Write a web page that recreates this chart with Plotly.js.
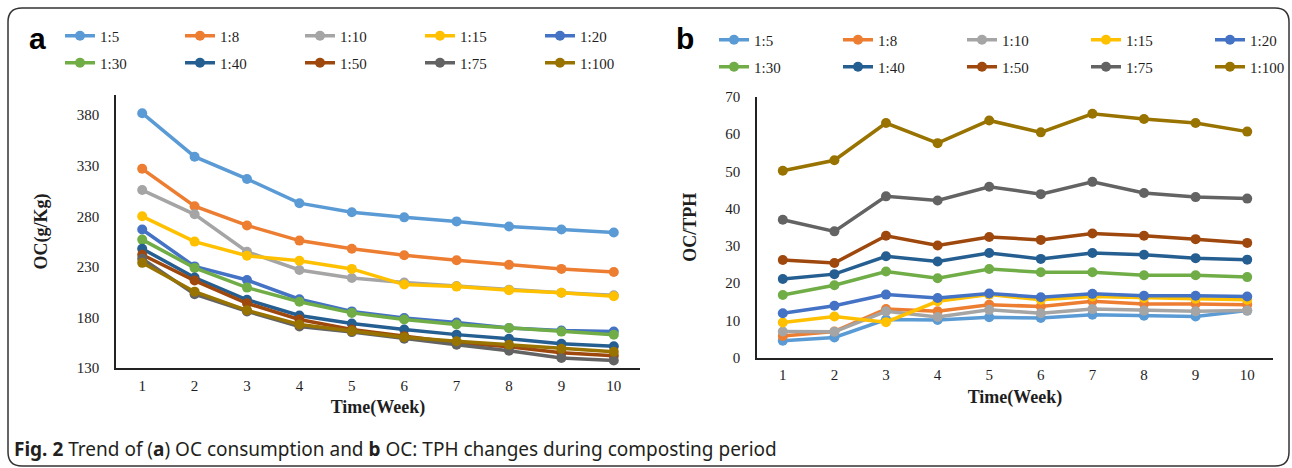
<!DOCTYPE html>
<html><head><meta charset="utf-8">
<script src="https://cdn.plot.ly/plotly-3.0.1.min.js"></script>
<style>html,body{margin:0;padding:0;background:#fff}#chart{width:1292px;height:468px}</style>
</head><body><div id="chart"></div>
<script>
// ---- data ----
const weeks = [1, 2, 3, 4, 5, 6, 7, 8, 9, 10];
const weekLabels = ['1', '2', '3', '4', '5', '6', '7', '8', '9', '10'];
const ratioNames = ['1:5', '1:8', '1:10', '1:15', '1:20', '1:30', '1:40', '1:50', '1:75', '1:100'];
const ratioColors = ['#5B9BD5', '#ED7D31', '#A5A5A5', '#FFC000', '#4472C4', '#70AD47', '#255E91', '#9E480E', '#636363', '#997300'];

// panel a: OC (g/Kg)
const oc_1_5   = [382, 339, 317, 293, 284, 279, 275, 270, 267, 264];
const oc_1_8   = [327, 290, 271, 256, 248, 241.5, 236.5, 232, 228, 225];
const oc_1_10  = [306, 282, 245, 227, 219, 214.5, 211, 207.5, 204.5, 202];
const oc_1_15  = [280, 255, 241, 236, 228, 212.5, 210.5, 207, 204.5, 201];
const oc_1_20  = [267, 230.5, 217, 198, 186, 179.5, 175, 169.5, 167, 166];
const oc_1_30  = [257, 229, 209.5, 195.5, 184.5, 178, 173, 169.5, 166, 163];
const oc_1_40  = [248, 219.5, 197.5, 182, 174, 168, 163, 159, 154, 151.5];
const oc_1_50  = [242, 216.5, 194, 178, 168, 161.5, 155, 151, 145, 142];
const oc_1_75  = [238, 203, 186, 171, 165.5, 159, 153, 147, 140, 137.5];
const oc_1_100 = [234, 205.5, 187, 173, 166.5, 160.5, 156.5, 153, 149, 146];

// panel b: OC/TPH
const tph_1_5   = [4.5, 5.4, 10.2, 10.1, 10.8, 10.6, 11.5, 11.2, 11.0, 12.6];
const tph_1_8   = [5.8, 7.0, 13.0, 12.4, 14.2, 13.7, 15.1, 14.4, 14.4, 14.2];
const tph_1_10  = [7.0, 6.9, 12.4, 10.9, 12.8, 11.9, 13.0, 12.6, 12.4, 12.6];
const tph_1_15  = [9.4, 11.0, 9.5, 15.1, 16.9, 15.5, 16.4, 16.0, 15.8, 15.5];
const tph_1_20  = [11.9, 13.9, 16.9, 16.0, 17.2, 16.2, 17.1, 16.6, 16.6, 16.4];
const tph_1_30  = [16.8, 19.4, 23.1, 21.3, 23.8, 22.9, 22.9, 22.1, 22.1, 21.6];
const tph_1_40  = [21.1, 22.4, 27.2, 25.8, 28.1, 26.5, 28.1, 27.6, 26.7, 26.3];
const tph_1_50  = [26.2, 25.4, 32.7, 30.1, 32.4, 31.6, 33.3, 32.7, 31.8, 30.8];
const tph_1_75  = [37.0, 33.9, 43.3, 42.2, 45.9, 43.9, 47.2, 44.2, 43.1, 42.7];
const tph_1_100 = [50.2, 53.0, 63.0, 57.6, 63.7, 60.5, 65.5, 64.1, 63.0, 60.7];

const ocTickVals = [130, 180, 230, 280, 330, 380];
const tphTickVals = [0, 10, 20, 30, 40, 50, 60, 70];

const ocSeries = [oc_1_5, oc_1_8, oc_1_10, oc_1_15, oc_1_20, oc_1_30, oc_1_40, oc_1_50, oc_1_75, oc_1_100];
const tphSeries = [tph_1_5, tph_1_8, tph_1_10, tph_1_15, tph_1_20, tph_1_30, tph_1_40, tph_1_50, tph_1_75, tph_1_100];

// ---- layout helpers (pixel -> paper, margins are 0) ----
const W = 1292, H = 468;
const PX = p => p / W;
const PY = p => 1 - p / H;
const SERIF = 'Liberation Serif, Times New Roman, serif';
const TXT = '#1e1e1e';

// legend ids: panel a rows -> legend / legend2 ; panel b rows -> legend3..legend6
function legendA(i) { return i < 5 ? 'legend' : 'legend2'; }
function legendB(i) {
  if (i < 4) return 'legend3';
  if (i === 4) return 'legend5';
  if (i < 9) return 'legend4';
  return 'legend6';
}

const traces = [];
ratioNames.forEach((name, i) => {
  traces.push({
    x: weeks, y: ocSeries[i], name: name, type: 'scatter', mode: 'lines+markers',
    xaxis: 'x', yaxis: 'y', legend: legendA(i),
    line: {color: ratioColors[i], width: 3.5}, marker: {color: ratioColors[i], size: 10},
    hoverinfo: 'x+y+name'
  });
});
ratioNames.forEach((name, i) => {
  traces.push({
    x: weeks, y: tphSeries[i], name: name, type: 'scatter', mode: 'lines+markers',
    xaxis: 'x2', yaxis: 'y2', legend: legendB(i),
    line: {color: ratioColors[i], width: 3.5}, marker: {color: ratioColors[i], size: 10},
    hoverinfo: 'x+y+name'
  });
});

function leg(xpx, ypx, ew) {
  const o = {
    orientation: 'h', x: PX(xpx), y: PY(ypx), xanchor: 'left', yanchor: 'middle',
    itemwidth: 30,
    font: {family: SERIF, size: 15, color: TXT}, bgcolor: 'rgba(0,0,0,0)',
    borderwidth: 0, itemclick: false, itemdoubleclick: false, tracegroupgap: 0
  };
  if (ew) { o.entrywidth = ew; o.entrywidthmode = 'pixels'; }
  return o;
}

function xAx(l, r, anchor) {
  return {
    domain: [PX(l), PX(r)], anchor: anchor, range: [0.5, 10.5],
    tickvals: weeks, ticktext: weekLabels, ticks: '', showgrid: false, zeroline: false,
    showline: true, linecolor: '#222', linewidth: 1.5, ticklabelstandoff: 3,
    tickfont: {family: SERIF, size: 15, color: TXT},
    title: {text: 'Time(Week)', standoff: 8, font: {family: SERIF, size: 18, color: TXT, weight: 'bold'}},
    fixedrange: true
  };
}
function yAx(bot, top, range, tv, anchor, title) {
  return {
    domain: [PY(bot), PY(top)], anchor: anchor, range: range,
    tickvals: tv, ticks: '', showgrid: false, zeroline: false,
    showline: true, linecolor: '#222', linewidth: 1.5, ticklabelstandoff: 12,
    tickfont: {family: SERIF, size: 15, color: TXT},
    title: {text: title, standoff: 24, font: {family: SERIF, size: 18, color: TXT, weight: 'bold'}},
    fixedrange: true
  };
}

// rounded frame
const fl = 8, ft = 8, fr = 1289, fb = 466, rad = 14;
const framePath =
  `M${PX(fl)},${PY(ft + rad)} Q${PX(fl)},${PY(ft)} ${PX(fl + rad)},${PY(ft)} ` +
  `L${PX(fr - rad)},${PY(ft)} Q${PX(fr)},${PY(ft)} ${PX(fr)},${PY(ft + rad)} ` +
  `L${PX(fr)},${PY(fb - rad)} Q${PX(fr)},${PY(fb)} ${PX(fr - rad)},${PY(fb)} ` +
  `L${PX(fl + rad)},${PY(fb)} Q${PX(fl)},${PY(fb)} ${PX(fl)},${PY(fb - rad)} Z`;

const layout = {
  width: W, height: H, margin: {l: 0, r: 0, t: 0, b: 0},
  paper_bgcolor: '#fff', plot_bgcolor: 'rgba(0,0,0,0)', showlegend: true,
  xaxis: xAx(116, 640, 'y'),
  yaxis: yAx(368, 95, [130, 400], ocTickVals, 'x', 'OC(g/Kg)'),
  xaxis2: xAx(757, 1273, 'y2'),
  yaxis2: yAx(357.5, 97, [0, 70], tphTickVals, 'x2', 'OC/TPH'),
  legend: leg(60, 36, 75),
  legend2: leg(60, 63, 75),
  legend3: leg(714, 40, 79),
  legend4: leg(714, 67, 79),
  legend5: leg(1210, 40, 0),
  legend6: leg(1210, 67, 0),
  shapes: [{type: 'path', xref: 'paper', yref: 'paper', path: framePath,
            line: {color: '#333', width: 1.5}, fillcolor: 'rgba(0,0,0,0)'}],
  annotations: [
    {text: '<b>a</b>', x: PX(37), y: PY(38), xref: 'paper', yref: 'paper', showarrow: false,
     xanchor: 'center', yanchor: 'middle', font: {family: 'Liberation Sans, Arial, sans-serif', size: 30, color: '#000'}},
    {text: '<b>b</b>', x: PX(685), y: PY(38), xref: 'paper', yref: 'paper', showarrow: false,
     xanchor: 'center', yanchor: 'middle', font: {family: 'Liberation Sans, Arial, sans-serif', size: 30, color: '#000'}},
    {text: '<b>Fig. 2</b> Trend of (<b>a</b>) OC consumption and <b>b</b> OC: TPH changes during composting period',
     x: PX(12), y: PY(449), xref: 'paper', yref: 'paper', showarrow: false,
     xanchor: 'left', yanchor: 'middle', font: {family: 'Noto Sans, sans-serif', size: 19, color: '#231f20'}}
  ]
};

Plotly.newPlot('chart', traces, layout, {displayModeBar: false});
</script>
</body></html>
